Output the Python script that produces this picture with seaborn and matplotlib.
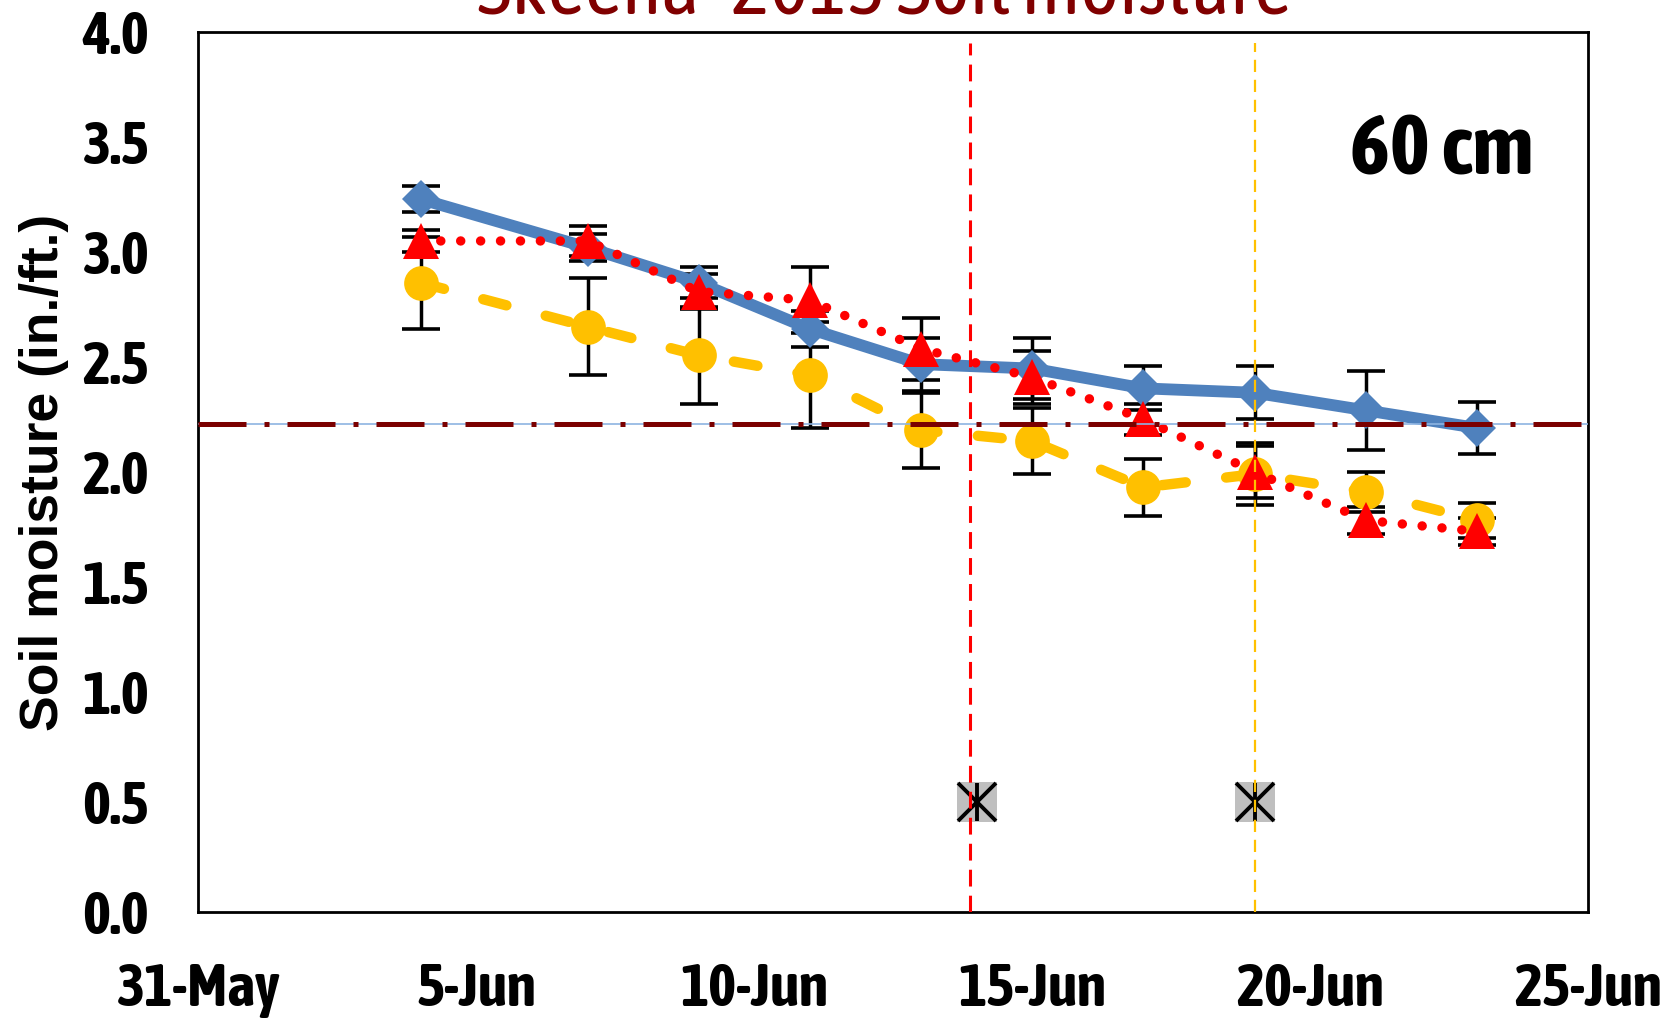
import os
import numpy as np
import pandas as pd
import matplotlib
matplotlib.use("Agg")
import matplotlib.pyplot as plt
from matplotlib import font_manager as fm
from matplotlib.font_manager import FontProperties
import seaborn as sns

# ---------------- data ----------------
dates = ["2015-06-04", "2015-06-07", "2015-06-09", "2015-06-11", "2015-06-13",
         "2015-06-15", "2015-06-17", "2015-06-19", "2015-06-21", "2015-06-23"]
blue_vals = [3.24, 3.02, 2.86, 2.65, 2.49, 2.47, 2.38, 2.36, 2.28, 2.20]
blue_err = [0.06, 0.06, 0.07, 0.08, 0.12, 0.14, 0.10, 0.12, 0.18, 0.12]
red_vals = [3.05, 3.05, 2.82, 2.78, 2.56, 2.43, 2.24, 2.00, 1.78, 1.73]
red_err = [0.05, 0.07, 0.08, 0.15, 0.14, 0.12, 0.07, 0.12, 0.06, 0.06]
yellow_vals = [2.86, 2.66, 2.53, 2.44, 2.19, 2.14, 1.93, 1.99, 1.91, 1.78]
yellow_err = [0.21, 0.22, 0.22, 0.24, 0.17, 0.15, 0.13, 0.14, 0.09, 0.08]

threshold = 2.22
event_dates = ["2015-06-14", "2015-06-19"]
event_vals = [0.5, 0.5]
event_line_dates = ["2015-06-13 21:00", "2015-06-19 00:00"]

xtick_dates = ["2015-05-31", "2015-06-05", "2015-06-10", "2015-06-15", "2015-06-20", "2015-06-25"]
xtick_labels = ["31-May", "5-Jun", "10-Jun", "15-Jun", "20-Jun", "25-Jun"]
ytick_vals = [0.0, 0.5, 1.0, 1.5, 2.0, 2.5, 3.0, 3.5, 4.0]
ytick_labels = ["0.0", "0.5", "1.0", "1.5", "2.0", "2.5", "3.0", "3.5", "4.0"]

title_text = "Skeena- 2015 Soil moisture"
ylabel_text = "Soil moisture (in./ft.)"
depth_text = "60 cm"

# ---------------- style ----------------
sns.set_theme(style="white")
plt.rcParams["font.family"] = ["DejaVu Sans"]

_files = {os.path.basename(f.fname): f.fname for f in fm.fontManager.ttflist}


def fp(cands, size, fallback_weight="bold"):
    for c in cands:
        if c in _files:
            return FontProperties(fname=_files[c], size=size)
    return FontProperties(family="DejaVu Sans", weight=fallback_weight,
                          stretch="condensed", size=size)


NARROW_BOLD = ["LiberationSansNarrow-Bold.ttf", "AsapCondensed-Bold.ttf",
               "DejaVuSansCondensed-Bold.ttf"]
NARROW_REG = ["LiberationSansNarrow-Regular.ttf", "AsapCondensed-Regular.ttf",
              "DejaVuSansCondensed.ttf"]
WIDE_BOLD = ["LiberationSans-Bold.ttf", "DejaVuSans-Bold.ttf"]

tick_fp = fp(NARROW_BOLD, 43)
depth_fp = fp(NARROW_BOLD, 61)
title_fp = fp(NARROW_REG, 59, "normal")
ylab_fp = fp(WIDE_BOLD, 38.5)

BLUE = "#4F81BD"
RED = "#FF0000"
YELLOW = "#FFC000"
DARKRED = "#7B0000"

df = pd.DataFrame({
    "date": pd.to_datetime(dates),
    "blue": blue_vals, "red": red_vals, "yellow": yellow_vals,
})

fig = plt.figure(figsize=(16.72, 10.21), dpi=100)
ax = fig.add_axes([0.1187, 0.1068, 0.8311, 0.8619])

# error bars (beneath markers)
for col, err in (("yellow", yellow_err), ("blue", blue_err), ("red", red_err)):
    ax.errorbar(df["date"], df[col], yerr=err, fmt="none", ecolor="black",
                elinewidth=2.5, capsize=14, capthick=2.6, zorder=2)

# series lines
sns.lineplot(data=df, x="date", y="yellow", ax=ax, color=YELLOW, linewidth=7.5,
             marker="o", markersize=25, markeredgewidth=0,
             linestyle=(0, (2.3, 3.9)), dash_capstyle="round", zorder=3)
sns.lineplot(data=df, x="date", y="blue", ax=ax, color=BLUE, linewidth=8.5,
             marker="D", markersize=19.5, markeredgewidth=0, zorder=4)
sns.lineplot(data=df, x="date", y="red", ax=ax, color=RED, linewidth=6.8,
             marker="^", markersize=26, markeredgewidth=0,
             linestyle=(0, (0.01, 2.1)), dash_capstyle="round", zorder=5)

# threshold line
ax.axhline(threshold, color="#8DB4E2", linewidth=1.2, zorder=6)
ax.axhline(threshold, color=DARKRED, linewidth=3.6,
           linestyle=(0, (9.6, 3.6, 1.0, 3.6)), zorder=6)

# event markers
ev = pd.to_datetime(event_dates)
ax.plot(ev, event_vals, linestyle="none", marker="s", markersize=29,
        markerfacecolor="#BFBFBF", markeredgewidth=0, zorder=7)
ax.plot(ev, event_vals, linestyle="none", marker="x", markersize=28,
        markeredgecolor="black", markeredgewidth=2.8, zorder=7)
ax.plot(ev, event_vals, linestyle="none", marker="|", markersize=28,
        markeredgecolor="black", markeredgewidth=2.8, zorder=7)

# vertical event lines
evl = pd.to_datetime(event_line_dates)
ax.axvline(evl[0], ymin=0, ymax=0.988, color=RED, linewidth=2.2,
           linestyle=(0, (5.5, 3)), zorder=8)
ax.axvline(evl[1], ymin=0, ymax=0.988, color=YELLOW, linewidth=1.6,
           linestyle=(0, (5.5, 3.5)), zorder=8)

# axes
ax.set_xlim(pd.Timestamp(xtick_dates[0]), pd.Timestamp(xtick_dates[-1]))
ax.set_ylim(0, 4.0)
ax.set_xticks(pd.to_datetime(xtick_dates))
ax.set_xticklabels(xtick_labels)
ax.set_yticks(ytick_vals)
ax.set_yticklabels(ytick_labels)
ax.set_xlabel("")
ax.tick_params(axis="both", direction="out", length=11.5, width=2, color="black",
               labelcolor="black")
ax.tick_params(axis="y", pad=24)
ax.tick_params(axis="x", pad=24)
for lab in ax.get_xticklabels() + ax.get_yticklabels():
    lab.set_fontproperties(tick_fp)
for sp in ax.spines.values():
    sp.set_visible(True)
    sp.set_color("black")
    sp.set_linewidth(2.0)
ax.grid(False)
ax.set_facecolor("white")

ax.set_ylabel(ylabel_text, fontproperties=ylab_fp, color="black", va="center")
ax.yaxis.set_label_coords(-0.111, 0.5)

ax.text(0.895, 0.8375, depth_text, transform=ax.transAxes, ha="center",
        va="baseline", fontproperties=depth_fp, color="black", zorder=9)

fig.text(0.529, 1 - 13 / 1021, title_text, ha="center", va="baseline",
         fontproperties=title_fp, color="#800000")

fig.savefig("out.png", dpi=100, facecolor="white")
